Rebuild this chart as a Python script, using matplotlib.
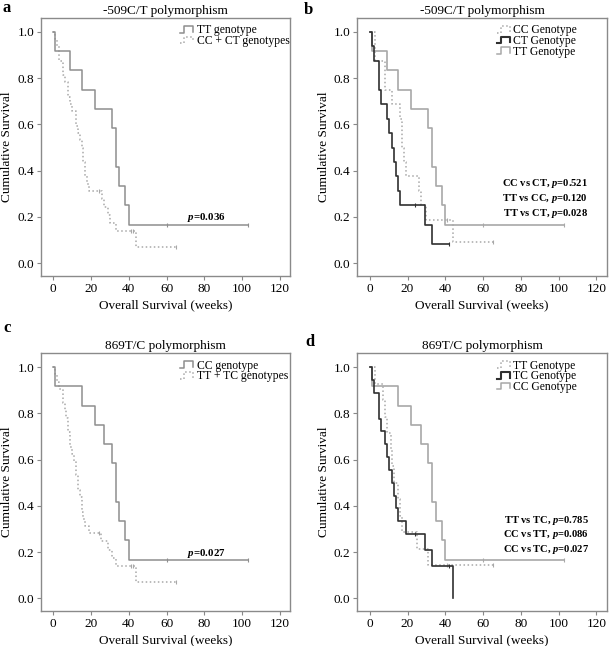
import numpy as np
import matplotlib
matplotlib.use('Agg')
import matplotlib.pyplot as plt
from matplotlib.lines import Line2D
from matplotlib.legend_handler import HandlerLine2D

plt.rcParams['font.family'] = ['Liberation Serif', 'DejaVu Serif']
plt.rcParams['mathtext.fontset'] = 'custom'
plt.rcParams['mathtext.rm'] = 'Liberation Serif'
plt.rcParams['mathtext.it'] = 'Liberation Serif:italic'
plt.rcParams['mathtext.bf'] = 'Liberation Serif:bold'
plt.rcParams['mathtext.bfit'] = 'Liberation Serif:italic:bold'

# survival data (weeks), event 1 = death, 0 = censored
tt509_time = [1, 9, 15, 22, 31, 33, 33, 35, 38, 40, 60, 103]
tt509_event = [1, 1, 1, 1, 1, 1, 1, 1, 1, 1, 0, 0]
cc509_time = [3, 3, 8, 8, 12, 16, 17, 17, 18, 19, 26, 27, 30, 41, 44, 65]
cc509_event = [1, 1, 1, 1, 1, 1, 1, 1, 1, 1, 1, 1, 1, 0, 1, 0]
ct509_time = [1, 2, 5, 5, 6, 9, 10, 12, 13, 14, 15, 16, 24, 29, 33, 42]
ct509_event = [1, 1, 1, 1, 1, 1, 1, 1, 1, 1, 1, 1, 0, 1, 1, 0]

cc869_time = [1, 15, 22, 27, 31, 33, 33, 35, 38, 40, 60, 103]
cc869_event = [1, 1, 1, 1, 1, 1, 1, 1, 1, 1, 0, 0]
tt869_time = [3, 7, 8, 9, 11, 12, 13, 15, 16, 17, 25, 31, 41, 65]
tt869_event = [1, 1, 1, 1, 1, 1, 1, 1, 1, 1, 1, 1, 0, 0]
tc869_time = [1, 2, 5, 5, 6, 8, 9, 10, 12, 13, 14, 15, 19, 24, 29, 33, 42, 44]
tc869_event = [1, 1, 1, 1, 1, 1, 1, 1, 1, 1, 1, 1, 1, 0, 1, 1, 0, 1]

pvals_a = ['0.036']
pvals_b = [('CC vs CT', '0.521'), ('TT vs CC', '0.120'), ('TT vs CT', '0.028')]
pvals_c = ['0.027']
pvals_d = [('TT vs TC', '0.785'), ('CC vs TT', '0.086'), ('CC vs TC', '0.027')]

LIGHT = '#a8a8a8'
MID = '#8e8e8e'
DARK = '#303030'


def kaplan_meier(times, events):
    times = np.asarray(times, float)
    events = np.asarray(events, int)
    xs, ys = [0.0], [1.0]
    s = 1.0
    for t in np.unique(times):
        at_risk = np.sum(times >= t)
        d = np.sum((times == t) & (events == 1))
        if d > 0:
            s *= (at_risk - d) / at_risk
            xs.append(t)
            ys.append(s)
    xs.append(times.max())
    ys.append(s)
    # censor marks
    cx = times[events == 0]
    cy = [ys[np.searchsorted(xs[:-1], c, side='right') - 1] for c in cx]
    return xs, ys, cx, cy


def draw_km(ax, times, events, color, ls, lw):
    xs, ys, cx, cy = kaplan_meier(times, events)
    ax.plot(xs, ys, drawstyle='steps-post', color=color, ls=ls, lw=lw)
    ax.plot(cx, cy, ls='none', marker='|', ms=3, mew=0.8, color=color)


class StepHandler(HandlerLine2D):
    def create_artists(self, legend, orig_handle, xdescent, ydescent,
                       width, height, fontsize, trans):
        xs = np.array([0, 0.3, 0.3, 1, 1]) * width - xdescent
        ys = np.array([0.1, 0.1, 0.9, 0.9, 0.2]) * height - ydescent
        line = Line2D(xs, ys, color=orig_handle.get_color(),
                      ls=orig_handle.get_linestyle(), lw=orig_handle.get_linewidth())
        line.set_transform(trans)
        return [line]


def style_axes(ax, letter, title, lx, ly):
    ax.set_xlim(-6.5, 125.3)
    ax.set_ylim(-0.055, 1.06)
    ax.set_xticks([0, 20, 40, 60, 80, 100, 120])
    ax.set_yticks([0.0, 0.2, 0.4, 0.6, 0.8, 1.0])
    ax.set_yticklabels(['0.0', '0.2', '0.4', '0.6', '0.8', '1.0'])
    ax.tick_params(labelsize=9.5, length=3, color='#888888', pad=2)
    for sp in ax.spines.values():
        sp.set_color('#8a8a8a')
        sp.set_linewidth(1.0)
    ax.set_xlabel('Overall Survival (weeks)', fontsize=9.5, labelpad=3)
    ax.set_ylabel('Cumulative Survival', fontsize=9.5, labelpad=3)
    ax.set_title(title, fontsize=9.5, pad=3)
    ax.text(lx, ly, letter, transform=ax.transAxes, fontsize=12,
            fontweight='bold', va='center', ha='left')


def add_legend(ax, labels, colors, styles, widths):
    handles = [Line2D([], [], color=c, ls=s, lw=w) for c, s, w in zip(colors, styles, widths)]
    ax.legend(handles, labels, loc='upper left', bbox_to_anchor=(0.56, 0.975),
              frameon=False, fontsize=8.4, handlelength=1.1, handleheight=0.7,
              handletextpad=0.3, labelspacing=-0.12, borderpad=0, borderaxespad=0,
              handler_map={Line2D: StepHandler()})


fig = plt.figure(figsize=(6.09, 6.46), dpi=100)
W = 0.4089
ax_a = fig.add_axes([0.0673, 0.5728, W, 0.3994])
ax_b = fig.add_axes([0.5870, 0.5728, W, 0.3994])
ax_c = fig.add_axes([0.0673, 0.0542, W, 0.3989])
ax_d = fig.add_axes([0.5870, 0.0542, W, 0.3989])

# panel a
draw_km(ax_a, cc509_time + ct509_time, cc509_event + ct509_event, LIGHT, ':', 1.1)
draw_km(ax_a, tt509_time, tt509_event, MID, '-', 1.1)
style_axes(ax_a, 'a', '-509C/T polymorphism', -0.155, 1.038)
add_legend(ax_a, ['TT genotype', 'CC + CT genotypes'], [MID, LIGHT], ['-', ':'], [1.1, 1.1])
ax_a.text(81, 0.185, r'$\mathbfit{p}$=' + pvals_a[0], fontsize=7.8, fontweight='bold', ha='center')

# panel b
draw_km(ax_b, cc509_time, cc509_event, LIGHT, ':', 1.1)
draw_km(ax_b, tt509_time, tt509_event, LIGHT, '-', 1.2)
draw_km(ax_b, ct509_time, ct509_event, DARK, '-', 1.2)
style_axes(ax_b, 'b', '-509C/T polymorphism', -0.215, 1.032)
add_legend(ax_b, ['CC Genotype', 'CT Genotype', 'TT Genotype'], [LIGHT, DARK, LIGHT],
           [':', '-', '-'], [1.1, 1.5, 1.1])
for i, (lab, p) in enumerate(pvals_b):
    ax_b.text(115.5, 0.343 - i * 0.064, lab + r', $\mathbfit{p}$=' + p, fontsize=7.6,
              fontweight='bold', ha='right', va='center')

# panel c
draw_km(ax_c, tt869_time + tc869_time, tt869_event + tc869_event, LIGHT, ':', 1.1)
draw_km(ax_c, cc869_time, cc869_event, MID, '-', 1.1)
style_axes(ax_c, 'c', '869T/C polymorphism', -0.15, 1.098)
add_legend(ax_c, ['CC genotype', 'TT + TC genotypes'], [MID, LIGHT], ['-', ':'], [1.1, 1.1])
ax_c.text(81, 0.185, r'$\mathbfit{p}$=' + pvals_c[0], fontsize=7.8, fontweight='bold', ha='center')

# panel d
draw_km(ax_d, tt869_time, tt869_event, LIGHT, ':', 1.1)
draw_km(ax_d, cc869_time, cc869_event, LIGHT, '-', 1.2)
draw_km(ax_d, tc869_time, tc869_event, DARK, '-', 1.2)
style_axes(ax_d, 'd', '869T/C polymorphism', -0.21, 1.044)
add_legend(ax_d, ['TT Genotype', 'TC Genotype', 'CC Genotype'], [LIGHT, DARK, LIGHT],
           [':', '-', '-'], [1.1, 1.5, 1.1])
for i, (lab, p) in enumerate(pvals_d):
    ax_d.text(116, 0.337 - i * 0.062, lab + r', $\mathbfit{p}$=' + p, fontsize=7.6,
              fontweight='bold', ha='right', va='center')

fig.savefig('out.png', dpi=100)
